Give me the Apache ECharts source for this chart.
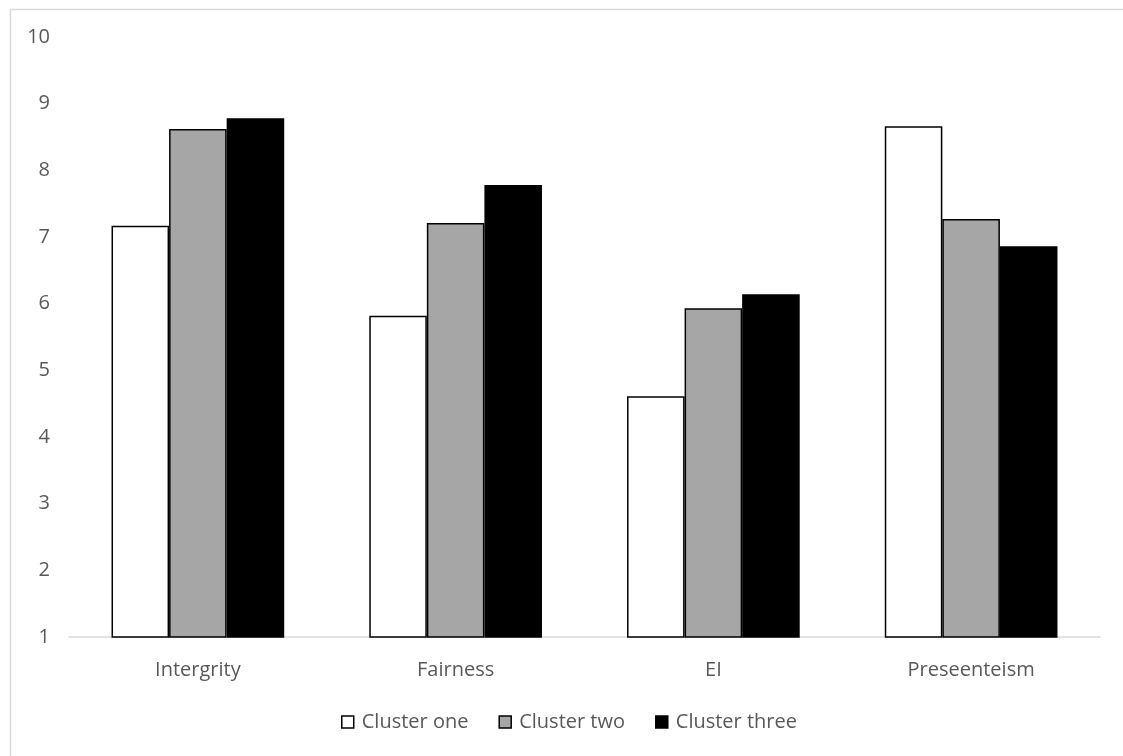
<!DOCTYPE html>
<html>
<head>
<meta charset="utf-8">
<script src="https://cdn.jsdelivr.net/npm/echarts@6/dist/echarts.min.js"></script>
<style>html,body{margin:0;padding:0;background:#fff}#c{width:1123px;height:756px}</style>
</head>
<body>
<div id="c"></div>
<script>
const categories = ['Intergrity', 'Fairness', 'EI', 'Preseenteism'];
const clusterOne = [7.17, 5.82, 4.61, 8.66];
const clusterTwo = [8.62, 7.21, 5.93, 7.27];
const clusterThree = [8.78, 7.78, 6.14, 6.86];
const yTicks = { min: 1, max: 10, interval: 1 };

const font = '"Open Sans", "Liberation Sans", sans-serif';
const chart = echarts.init(document.getElementById('c'));
chart.setOption({
  animation: false,
  backgroundColor: '#fff',
  graphic: [{
    type: 'rect', left: 8, top: 7, shape: { width: 1130, height: 760 },
    style: { fill: 'none', stroke: '#d9d9d9', lineWidth: 1.5 }, silent: true, z: -1
  }],
  grid: { left: 69, right: 23, top: 37, bottom: 119, containLabel: false },
  legend: {
    bottom: 19, left: 336, icon: 'rect', itemWidth: 12, itemHeight: 12, itemGap: 30,
    textStyle: { color: '#595959', fontSize: 20, fontFamily: font, padding: [0, 0, 0, 3] },
    data: [
      { name: 'Cluster one', itemStyle: { color: '#fff', borderColor: '#000', borderWidth: 1.5 } },
      { name: 'Cluster two', itemStyle: { color: '#a6a6a6', borderColor: '#000', borderWidth: 1.5 } },
      { name: 'Cluster three', itemStyle: { color: '#000', borderColor: '#000', borderWidth: 1.5 } }
    ]
  },
  xAxis: {
    type: 'category', data: categories,
    axisLine: { lineStyle: { color: '#d9d9d9', width: 1.5 } },
    axisTick: { show: false },
    axisLabel: { color: '#595959', fontSize: 20, fontFamily: font, margin: 23 }
  },
  yAxis: {
    type: 'value', min: yTicks.min, max: yTicks.max, interval: yTicks.interval,
    splitLine: { show: false }, axisLine: { show: false }, axisTick: { show: false },
    axisLabel: { color: '#595959', fontSize: 20, fontFamily: font, margin: 19 }
  },
  series: [
    { name: 'Cluster one', type: 'bar', data: clusterOne, barGap: '0%', barCategoryGap: '33%',
      itemStyle: { color: '#fff', borderColor: '#000', borderWidth: 1.5 } },
    { name: 'Cluster two', type: 'bar', data: clusterTwo,
      itemStyle: { color: '#a6a6a6', borderColor: '#000', borderWidth: 1.5 } },
    { name: 'Cluster three', type: 'bar', data: clusterThree,
      itemStyle: { color: '#000', borderColor: '#000', borderWidth: 1.5 } }
  ]
});
</script>
</body>
</html>
